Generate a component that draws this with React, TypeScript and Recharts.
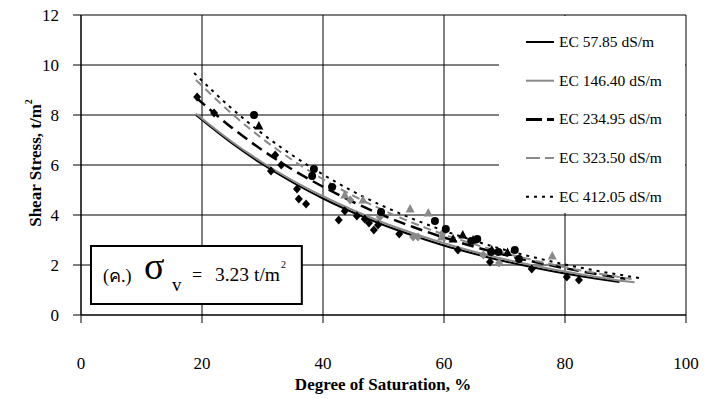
import React from 'react';
import {
  ComposedChart,
  Line,
  Scatter,
  XAxis,
  YAxis,
  CartesianGrid,
  Legend,
  ReferenceArea,
} from 'recharts';

const FONT = '"Liberation Serif", "Times New Roman", serif';

const xTicks = [0, 20, 40, 60, 80, 100];
const yTicks = [0, 2, 4, 6, 8, 10, 12];

const seriesNames = [
  'EC 57.85 dS/m',
  'EC 146.40 dS/m',
  'EC 234.95 dS/m',
  'EC 323.50 dS/m',
  'EC 412.05 dS/m',
];

// trend curves as [degree of saturation, shear stress]
const fit5785 = [
  [19, 8.0], [25, 6.86], [30, 6.03], [35, 5.3], [40, 4.66], [45, 4.1], [50, 3.6], [55, 3.17],
  [60, 2.78], [65, 2.45], [70, 2.15], [75, 1.89], [80, 1.66], [85, 1.46], [89, 1.32],
];
const fit14640 = [
  [19, 8.05], [25, 6.92], [30, 6.1], [35, 5.38], [40, 4.75], [45, 4.19], [50, 3.69], [55, 3.26],
  [60, 2.87], [65, 2.53], [70, 2.23], [75, 1.97], [80, 1.74], [85, 1.53], [90, 1.35], [91.5, 1.31],
];
const fit23495 = [
  [19, 8.7], [25, 7.48], [30, 6.59], [35, 5.81], [40, 5.13], [45, 4.52], [50, 3.98], [55, 3.51],
  [60, 3.1], [65, 2.73], [70, 2.41], [75, 2.12], [80, 1.87], [85, 1.65], [90, 1.45],
];
const fit32350 = [
  [19, 9.4], [25, 8.04], [30, 7.05], [35, 6.19], [40, 5.43], [45, 4.77], [50, 4.19], [55, 3.67],
  [60, 3.22], [65, 2.83], [70, 2.48], [75, 2.18], [80, 1.91], [85, 1.68], [91, 1.44],
];
const fit41205 = [
  [18.7, 9.68], [25, 8.24], [30, 7.25], [35, 6.38], [40, 5.62], [45, 4.94], [50, 4.35], [55, 3.83],
  [60, 3.37], [65, 2.97], [70, 2.61], [75, 2.3], [80, 2.02], [85, 1.78], [90, 1.57], [93, 1.45],
];

// measured points
const blackDiamonds = [
  [19.2, 8.72], [22.0, 8.08], [32.1, 6.4], [33.1, 6.0], [31.4, 5.76], [35.7, 5.04], [36.0, 4.64],
  [37.2, 4.44], [42.6, 3.8], [43.6, 4.16], [45.6, 3.96], [46.9, 3.84], [47.6, 3.68], [48.4, 3.4],
  [49.1, 3.6], [52.6, 3.24], [62.3, 2.6], [67.6, 2.12], [74.5, 1.84], [80.3, 1.52], [82.3, 1.4],
];
const grayDiamonds = [
  [44.5, 4.6], [49.4, 3.92], [54.9, 3.12], [55.7, 3.12], [59.8, 3.28], [66.5, 2.4], [69.1, 2.08],
];
const blackTriangles = [
  [29.4, 7.56], [61.5, 3.04], [63.1, 3.2], [64.8, 3.0], [67.9, 2.6], [70.5, 2.5],
];
const grayTriangles = [
  [43.6, 4.8], [46.6, 4.6], [54.4, 4.24], [57.4, 4.08], [59.6, 3.12], [77.9, 2.36],
];
const circles = [
  [28.6, 8.0], [38.5, 5.84], [38.2, 5.56], [41.5, 5.12], [49.6, 4.12], [58.5, 3.76], [60.3, 3.44],
  [64.5, 2.96], [65.5, 3.04], [67.8, 2.52], [69.0, 2.52], [71.7, 2.6], [72.4, 2.24],
];

const toXY = (pts: number[][]) => pts.map(([x, y]) => ({ x, y }));

const GRAY = '#8a8a8a';

const lineStyles = [
  { stroke: '#000', width: 2, dash: undefined },
  { stroke: GRAY, width: 2, dash: undefined },
  { stroke: '#000', width: 2.5, dash: '12 6' },
  { stroke: GRAY, width: 2, dash: '8 5' },
  { stroke: '#000', width: 2, dash: '3 5' },
];

const fits = [fit5785, fit14640, fit23495, fit32350, fit41205];

const diamond = (fill: string) => (p: any) => (
  <polygon
    points={`${p.cx},${p.cy - 4.5} ${p.cx + 4},${p.cy} ${p.cx},${p.cy + 4.5} ${p.cx - 4},${p.cy}`}
    fill={fill}
  />
);
const triangle = (fill: string) => (p: any) => (
  <polygon
    points={`${p.cx},${p.cy - 5} ${p.cx + 4.5},${p.cy + 3.5} ${p.cx - 4.5},${p.cy + 3.5}`}
    fill={fill}
  />
);
const circle = (fill: string) => (p: any) => <circle cx={p.cx} cy={p.cy} r={4} fill={fill} />;

function XTick({ x, y, payload }: any) {
  return (
    <text x={x} y={y + 44} textAnchor="middle" fontSize={17} fontFamily={FONT} fill="#000">
      {payload.value}
    </text>
  );
}

function YTick({ x, y, payload }: any) {
  return (
    <text x={x - 12} y={y + 6} textAnchor="end" fontSize={17} fontFamily={FONT} fill="#000">
      {payload.value}
    </text>
  );
}

function LegendBox() {
  return (
    <svg width={186} height={197} style={{ display: 'block', background: '#fff' }}>
      {seriesNames.map((name, i) => {
        const s = lineStyles[i];
        const y = 26 + i * 38.7;
        return (
          <g key={name}>
            <line
              x1={27}
              x2={55}
              y1={y}
              y2={y}
              stroke={s.stroke}
              strokeWidth={i === 2 ? 3 : 2}
              strokeDasharray={i === 2 ? '16 5' : i === 3 ? '14 5' : s.dash}
            />
            <text x={60} y={y + 5} fontSize={15.5} fontFamily={FONT} fill="#000">
              {name}
            </text>
          </g>
        );
      })}
    </svg>
  );
}

function XTitle() {
  return (
    <text x={383} y={390} textAnchor="middle" fontSize={17} fontWeight="bold" fontFamily={FONT} fill="#000">
      Degree of Saturation, %
    </text>
  );
}

function YTitle() {
  return (
    <text
      x={41}
      y={163}
      transform="rotate(-90, 41, 163)"
      textAnchor="middle"
      fontSize={17}
      fontWeight="bold"
      fontFamily={FONT}
      fill="#000"
    >
      Shear Stress, t/m
      <tspan dy={-9} fontSize={10}>2</tspan>
    </text>
  );
}

function SigmaNote({ viewBox }: any) {
  const x = viewBox?.x ?? 91;
  const y = viewBox?.y ?? 246;
  return (
    <g fontFamily={FONT} fill="#000">
      <text x={x + 12} y={y + 36} fontSize={18} fontFamily={FONT}>(ค.)</text>
      <text x={x + 53} y={y + 33} fontSize={38} fontFamily={FONT}>σ</text>
      <text x={x + 81} y={y + 45} fontSize={19} fontFamily={FONT}>v</text>
      <text x={x + 101} y={y + 35} fontSize={18} fontFamily={FONT}>=</text>
      <text x={x + 124} y={y + 35} fontSize={19.5} fontFamily={FONT}>
        3.23 t/m
        <tspan dy={-13} dx={1} fontSize={10}>2</tspan>
      </text>
    </g>
  );
}

export default function App() {
  return (
    <div style={{ position: 'absolute', left: 0, top: 0, background: '#fff', fontFamily: FONT }}>
      <ComposedChart
        width={712}
        height={399}
        margin={{ top: 15, right: 26, bottom: 24, left: 0 }}
        style={{ fontFamily: FONT }}
      >
        <CartesianGrid stroke="#000" strokeWidth={1} />
        <XAxis
          type="number"
          dataKey="x"
          domain={[0, 100]}
          ticks={xTicks}
          height={60}
          stroke="#000"
          tickSize={8}
          tick={<XTick />}
          allowDataOverflow
          label={<XTitle />}
        />
        <YAxis
          type="number"
          dataKey="y"
          domain={[0, 12]}
          ticks={yTicks}
          width={81}
          stroke="#000"
          tickSize={8}
          tick={<YTick />}
          allowDataOverflow
          label={<YTitle />}
        />
        <ReferenceArea
          x1={1.65}
          x2={36.5}
          y1={0.44}
          y2={2.76}
          fill="#fff"
          fillOpacity={1}
          stroke="#000"
          strokeWidth={2}
          label={<SigmaNote />}
        />
        {fits.map((f, i) => (
          <Line
            key={seriesNames[i]}
            name={seriesNames[i]}
            data={toXY(f)}
            dataKey="y"
            type="monotone"
            stroke={lineStyles[i].stroke}
            strokeWidth={lineStyles[i].width}
            strokeDasharray={lineStyles[i].dash}
            dot={false}
            activeDot={false}
            isAnimationActive={false}
          />
        ))}
        <Scatter data={toXY(blackDiamonds)} shape={diamond('#000')} isAnimationActive={false} />
        <Scatter data={toXY(grayDiamonds)} shape={diamond(GRAY)} isAnimationActive={false} />
        <Scatter data={toXY(blackTriangles)} shape={triangle('#000')} isAnimationActive={false} />
        <Scatter data={toXY(grayTriangles)} shape={triangle(GRAY)} isAnimationActive={false} />
        <Scatter data={toXY(circles)} shape={circle('#000')} isAnimationActive={false} />
        <Legend
          layout="vertical"
          align="center"
          verticalAlign="middle"
          width={186}
          height={197}
          wrapperStyle={{ left: 499, top: 16, margin: 0 }}
          content={() => <LegendBox />}
        />
      </ComposedChart>
    </div>
  );
}
